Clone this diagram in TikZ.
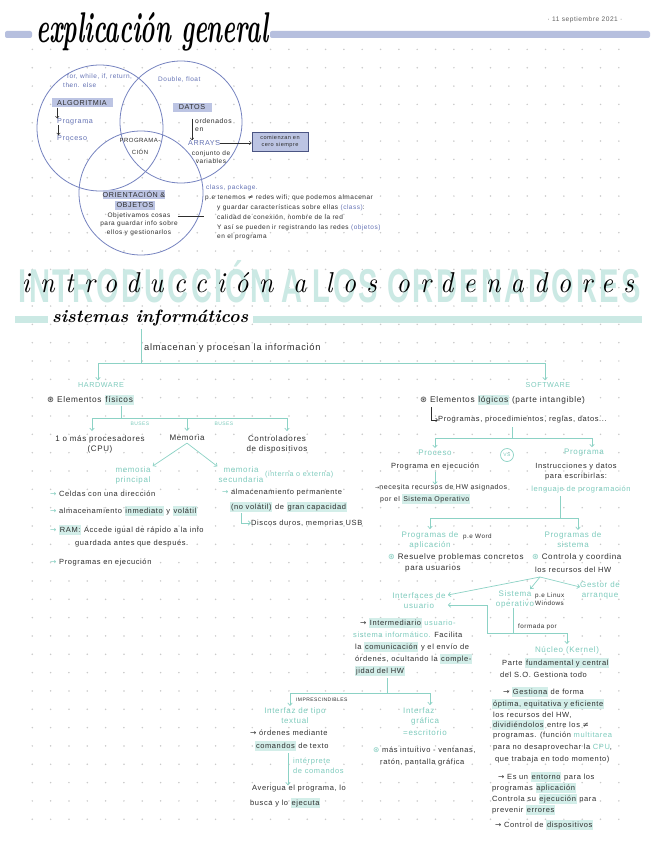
\documentclass[tikz,border=0pt]{standalone}
\usepackage{fontspec}
\usepackage{graphicx}
\usetikzlibrary{arrows.meta}
\setmainfont{Liberation Sans}[LetterSpace=8]
\newfontfamily\symf{DejaVu Sans}
\newfontfamily\lmrf{Latin Modern Roman}
\newfontfamily\lmspf{Latin Modern Roman}[LetterSpace=40]
\definecolor{ink}{HTML}{2E2E2E}
\definecolor{mint}{HTML}{7ECBBD}
\definecolor{mintline}{HTML}{8CD2C5}
\definecolor{minthl}{HTML}{D3EEE9}
\definecolor{mintband}{HTML}{CBE9E4}
\definecolor{lav}{HTML}{6573B5}
\definecolor{lavline}{HTML}{7683C0}
\definecolor{lavhl}{HTML}{BCC4E3}
\definecolor{lavbar}{HTML}{B6BFDE}
\definecolor{boxd}{HTML}{4B5583}
\definecolor{dotc}{HTML}{CACACA}
\definecolor{dategray}{HTML}{606060}
\newcommand\fsA{\fontsize{7.5}{10}\selectfont}
\newcommand\fsB{\fontsize{6.5}{8.6}\selectfont}
\newcommand\fsV{\fontsize{7.2}{8}\selectfont}
\newcommand\fsT{\fontsize{5}{6}\selectfont}
\newcommand\fsM{\fontsize{8}{10}\selectfont}
\newcommand\fsL{\fontsize{9.3}{11}\selectfont}
\newcommand\fsP{\fontsize{6.3}{8}\selectfont}
\newcommand\fsS{\fontsize{8.3}{10}\selectfont}
\newcommand\hlm[1]{{\setlength{\fboxsep}{0.8pt}\colorbox{minthl}{\vphantom{Ág}#1}}}
\newcommand\arr{{\symf →}}
\newcommand\bul{{\symf ⊛}}
\begin{document}
\begin{tikzpicture}[x=1pt,y=-1pt,
  txA/.style={anchor=west, inner sep=0pt, text=ink, font=\fsA, align=left},
  txB/.style={anchor=west, inner sep=0pt, text=ink, font=\fsB, align=left},
  mtxt/.style={inner sep=0pt, text=mint, font=\fsM, align=center},
  ltxt/.style={anchor=west, inner sep=0pt, text=lav, font=\fsB},
  lbox/.style={fill=lavhl, inner sep=0pt, text=ink, font=\fsV},
  vennc/.style={draw=lavline, line width=0.8pt, circle, inner sep=0pt},
  mln/.style={draw=mintline, line width=0.7pt},
  mar/.style={mln, -{Straight Barb[length=2.4pt,width=4.5pt]}},
  kar/.style={draw=ink, line width=0.5pt, -{Straight Barb[length=2pt,width=3.5pt]}}]

\useasboundingbox (0,0) rectangle (655,848);
\fill[white] (0,0) rectangle (655,848);
\foreach \i in {0,...,32}{\foreach \j in {0,...,42}{
  \fill[dotc] ({32.3+18.33*\i},{49.4+18.33*\j}) circle[radius=0.85];}}

% ---------- header ----------
\fill[lavbar, rounded corners=2] (5,31) rectangle (32,38);
\fill[lavbar, rounded corners=2] (270,31) rectangle (650,38);
\node[inner sep=0pt, anchor=west, text=black] (t1) at (36,32)
  {\resizebox{232pt}{30pt}{\lmrf\bfseries\itshape explicación general}};
\node[inner sep=0pt, text=dategray, font=\fontsize{6.6}{7}\selectfont] (date) at (585,20) {· 11 septiembre 2021 ·};

% ---------- venn ----------
\node[vennc, minimum size=126pt] (c1) at (100,128) {};
\node[vennc, minimum size=122pt] (c2) at (181,122) {};
\node[vennc, minimum size=124pt] (c3) at (141,193) {};

\node[ltxt] (v1) at (67,77) {for, while, if, return,};
\node[ltxt] (v2) at (63,85) {then. else};
\node[lbox, minimum width=61pt, minimum height=9pt] (algo) at (82,103) {ALGORITMIA};
\node[ltxt, font=\fsV] (vprog) at (57,122) {Programa};
\node[ltxt, font=\fsV] (vproc) at (57,138) {Proceso};
\draw[kar] ([xshift=6pt]algo.south west) -- ([xshift=6pt]algo.south west |- vprog.north);
\draw[kar] ([xshift=1.5pt]vprog.south west) -- ([xshift=1.5pt]vprog.south west |- vproc.north);

\node[ltxt] (dbl) at (158,80) {Double, float};
\node[lbox, minimum width=39pt, minimum height=9pt] (datos) at (192,107.5) {DATOS};
\node[txB, font=\fontsize{6.8}{7.5}\selectfont] (ord) at (195,125) {ordenados\\en};
\node[ltxt, font=\fsV] (arrays) at (188,143) {ARRAYS};
\draw[kar] ([xshift=-3pt]ord.north west) -- ([xshift=-3pt]ord.north west |- arrays.north);
\node[txB, anchor=center, align=center] (conj) at (211,157) {conjunto de\\variables};
\node[draw=boxd, fill=lavhl, line width=0.7pt, minimum width=56pt, minimum height=19pt,
      inner sep=0pt, align=center, font=\fontsize{5.6}{7}\selectfont, text=ink] (cero) at (280,141.5) {comienzan en\\cero siempre};
\draw[kar] (arrays.east) -- (arrays.east -| cero.west);

\node[txB, anchor=center, align=center, font=\fontsize{6}{12}\selectfont] (pgm) at (140,146) {PROGRAMA-\\CIÓN};

\node[lbox, minimum width=62pt, minimum height=9pt] (ori) at (134,194.5) {ORIENTACIÓN \&};
\node[lbox, minimum width=40pt, minimum height=9pt] (objt) at (135,205.5) {OBJETOS};
\node[txB, anchor=center, align=center] (objd) at (139,224) {Objetivamos cosas\\para guardar info sobre\\ellos y gestionarlos};
\coordinate (clsend) at (204,216);
\draw[draw=ink, line width=0.5pt] ([yshift=8pt]objd.east) -- (clsend);

\node[ltxt] (cls1) at (206,188) {class, package.};
\node[txB] (cls2) at (205,198) {p.e tenemos {\symf ≠} redes wifi, que podemos almacenar};
\node[txB] (cls3) at (217,208) {y guardar características sobre ellas \textcolor{lav}{(class)}:};
\node[txB] (cls4) at (217,218) {calidad de conexión, nombre de la red};
\node[txB] (cls5) at (217,228) {Y así se pueden ir registrando las redes \textcolor{lav}{(objetos)}};
\node[txB] (cls6) at (217,237) {en el programa};

% ---------- title 2 ----------
\node[inner sep=0pt, text=mintband] (bigt) at (330,282)
  {\resizebox{622pt}{42pt}{\bfseries INTRODUCCIÓN A LOS ORDENADORES}};
\node[inner sep=0pt, text=black] (intro) at (328,283)
  {\resizebox{612pt}{20pt}{\lmspf\itshape introducción a los ordenadores}};

\fill[mintband] (15,316) rectangle (48,323);
\fill[mintband] (253,316) rectangle (642,323);
\node[inner sep=0pt, anchor=west, text=black] (sist) at (52,318)
  {\resizebox{196pt}{!}{\lmrf\bfseries\itshape sistemas informáticos}};

% ---------- main tree ----------
\coordinate (j0) at (141,329);
\coordinate (j1) at (141,363);
\node[txA, font=\fsL] (alm) at (144,348) {almacenan y procesan la información};
\draw[mln] (j0) -- (j1);
\node[mtxt, font=\fsV] (hw) at (101,385) {HARDWARE};
\node[mtxt, font=\fsV] (sw) at (548,385) {SOFTWARE};
\draw[mar] (j1) -| ([xshift=-3pt,yshift=2pt]hw.north);
\draw[mar] (j1) -| ([xshift=-3pt,yshift=2pt]sw.north);

% hardware
\node[txA, font=\fsS] (elf) at (47,400) {\bul\ Elementos \hlm{físicos}};
\coordinate (hwa) at (121,406);
\coordinate (hwb) at (121,418);
\draw[mln] (hwa) -- (hwb);
\node[txA, anchor=center, align=center, font=\fsM] (cpu) at (100,444) {1 o más procesadores\\(CPU)};
\node[txA, anchor=center, font=\fsM] (mem) at (187,438) {Memoria};
\node[txA, anchor=center, align=center, font=\fsM] (ctrl) at (277,444) {Controladores\\de dispositivos};
\draw[mar] (hwb) -| ([xshift=-8pt,yshift=4pt]cpu.north);
\draw[mar] (hwb) -| ([yshift=4pt]mem.north);
\draw[mar] (hwb) -| ([xshift=10pt,yshift=4pt]ctrl.north);
\node[mtxt, font=\fsT] (bus1) at (140,424) {BUSES};
\node[mtxt, font=\fsT] (bus2) at (224,424) {BUSES};

\node[mtxt] (mp) at (133,475) {memoria\\principal};
\node[mtxt] (ms) at (241,474.5) {memoria\\secundaria};
\node[mtxt, anchor=west, font=\fsV] (msx) at (265,475) {(interna o externa)};
\draw[mar] ([yshift=-2pt]mem.south) -- ([xshift=2pt]mp.north east);
\draw[mar] ([yshift=-2pt]mem.south) -- ([xshift=-1pt]ms.north west);

\node[txA] (l1) at (50,494) {\textcolor{mint}{\arr} Celdas con una dirección};
\node[txA] (l2) at (50,511) {\textcolor{mint}{\arr} almacenamiento \hlm{inmediato} y \hlm{volátil}};
\node[txA] (l3) at (50,530) {\textcolor{mint}{\arr} \hlm{RAM:} Accede igual de rápido a la info};
\node[txA] (l3b) at (75,544) {guardada antes que después.};
\node[txA] (l4) at (50,563) {\textcolor{mint}{\arr} Programas en ejecución};

\node[txA] (r1) at (222,493) {\textcolor{mint}{\arr} almacenamiento permanente};
\node[txA] (r2) at (230,507) {\hlm{(no volátil)} de \hlm{gran capacidad}};
\node[txA] (r3) at (251,523) {Discos duros, memorias USB};
\coordinate (rL) at (241,513);
\draw[mar] (rL) |- (r3.west);

% software
\node[txA, font=\fsS] (s1) at (420,400) {\bul\ Elementos \hlm{lógicos} (parte intangible)};
\node[txA, font=\fsA] (s2) at (438,420) {Programas, procedimientos, reglas, datos...};
\coordinate (sL) at (431,407);
\draw[kar] (sL) |- (s2.west);
\coordinate (sj1) at (512,427);
\coordinate (sj2) at (512,438);
\draw[mln] (sj1) -- (sj2);
\node[mtxt] (proc) at (435,453) {Proceso};
\node[mtxt] (prog) at (584,453) {Programa};
\draw[mar] (sj2) -| ([yshift=2pt]proc.north);
\draw[mar] (sj2) -| ([xshift=8pt,yshift=2pt]prog.north);
\node[draw=mintline, circle, line width=0.7pt, inner sep=0.5pt, minimum size=13pt, text=mint, font=\fsT] (vs) at (507,455) {VS};

\node[txA, anchor=center] (pe) at (435,467) {Programa en ejecución};
\node[txA, font=\fontsize{7}{9}\selectfont] (nec) at (375,488) {{\symf\fontsize{5}{6}\selectfont →}necesita recursos de HW asignados};
\node[txA, font=\fontsize{7}{9}\selectfont] (nec2) at (380,499) {por el \hlm{Sistema Operativo}};
\draw[mar] ([yshift=-1pt]pe.south) -- (pe.south |- nec.north);

\node[txA, anchor=center, align=center] (ins) at (576,472) {Instrucciones y datos\\para escribirlas:};
\node[mtxt, font=\fsA] (leng) at (581,490) {lenguaje de programación};
\coordinate (pj0) at (560,496);
\coordinate (pj) at (560,518);
\draw[mln] (pj0) -- (pj);
\node[mtxt] (papp) at (430,540) {Programas de\\aplicación};
\node[mtxt] (psis) at (573,540) {Programas de\\sistema};
\draw[mar] (pj) -| ([yshift=2pt]papp.north);
\draw[mar] (pj) -| ([xshift=5pt,yshift=2pt]psis.north);
\node[txA, font=\fsP] (pew) at (463,537) {p.e Word};

\node[txA, font=\fsM] (res1) at (388,557) {\textcolor{mint}{\bul} Resuelve problemas concretos};
\node[txA, font=\fsM] (res2) at (405,568) {para usuarios};
\node[txA, font=\fsM] (ctl1) at (532,557) {\textcolor{mint}{\bul} Controla y coordina};
\node[txA, font=\fsA] (ctl2) at (535,570) {los recursos del HW};

\coordinate (bj) at (540,577);
\node[mtxt] (iu) at (419,601) {Interfaces de\\usuario};
\node[mtxt] (so) at (515,599) {Sistema\\operativo};
\node[txA, font=\fsP] (pel) at (535,599) {p.e Linux\\Windows};
\node[mtxt] (ga) at (600,590) {Gestor de\\arranque};
\draw[mar] (bj) -- ([xshift=2pt,yshift=6pt]iu.east);
\draw[mar] (bj) -- ([xshift=-4pt,yshift=1pt]so.north east);
\draw[mar] (bj) -- ([yshift=3pt]ga.west);

\coordinate (k1) at (487,633);
\node[mtxt] (kern) at (567,650) {Núcleo (Kernel)};
\draw[mln] ([xshift=-2pt]so.south) -- ([xshift=-2pt]so.south |- k1);
\draw[mar] (k1) |- ([xshift=2pt,yshift=-4pt]iu.east);
\draw[mar] (k1) -| ([yshift=2pt]kern.north);
\node[txA, font=\fsP] (fp) at (518,627) {formada por};
\node[txA] (kern2) at (502,663) {Parte \hlm{fundamental y central}};
\node[txA] (kern3) at (500,675) {del S.O. Gestiona todo};

\node[txA] (i1) at (360,623) {\arr\ \hlm{Intermediario} \textcolor{mint}{usuario-}};
\node[txA] (i2) at (353,635) {\textcolor{mint}{sistema informático.} Facilita};
\node[txA] (i3) at (355,647) {la \hlm{comunicación} y el envío de};
\node[txA] (i4) at (355,659) {órdenes, ocultando la \hlm{comple-}};
\node[txA] (i5) at (355,671) {\hlm{jidad del HW}};

\coordinate (it0) at (387,678);
\coordinate (it1) at (387,693);
\draw[mln] (it0) -- (it1);
\node[mtxt] (itx) at (295,716) {Interfaz de tipo\\textual};
\node[mtxt, anchor=west, align=left] (igr) at (403,716) {Interfaz\\\hspace*{8pt}gráfica};
\draw[mar] (it1) -| ([xshift=-5pt,yshift=2pt]itx.north);
\draw[mar] (it1) -| ([xshift=27pt,yshift=2pt]igr.north west);
\node[txA, font=\fsT] (impr) at (296,700) {IMPRESCINDIBLES};

\node[txA] (ic1) at (250,733) {\arr\ órdenes mediante};
\node[txA] (ic2) at (255,746) {\hlm{comandos} de texto};
\node[mtxt, anchor=west, align=left, font=\fsA] (intp) at (293,766) {intérprete\\de comandos};
\node[txA] (av1) at (252,789) {Averigua el programa, lo};
\node[txA] (av2) at (250,803) {busca y lo \hlm{ejecuta}};
\coordinate (iv0) at (288,753);
\draw[mar] (iv0) -- (iv0 |- av1.north);

\node[mtxt, anchor=west] (esc) at (403,733) {=escritorio};
\node[txA] (gr1) at (373,750) {\textcolor{mint}{\bul} más intuitivo - ventanas,};
\node[txA] (gr2) at (380,763) {ratón, pantalla gráfica};

\node[txA] (g1) at (503,692) {\arr\ \hlm{Gestiona} de forma};
\node[txA] (g2) at (492,704) {\hlm{óptima, equitativa y eficiente}};
\node[txA] (g3) at (493,715) {los recursos del HW,};
\node[txA] (g4) at (492,725) {\hlm{dividiéndolos} entre los {\symf ≠}};
\node[txA] (g5) at (493,736) {programas. (función \textcolor{mint}{multitarea}};
\node[txA] (g6) at (493,748) {para no desaprovechar la \textcolor{mint}{CPU},};
\node[txA] (g7) at (495,760) {que trabaja en todo momento)};
\node[txA] (e1) at (498,777) {\arr\ Es un \hlm{entorno} para los};
\node[txA] (e2) at (492,788) {programas \hlm{aplicación}};
\node[txA] (e3) at (492,799) {Controla su \hlm{ejecución} para};
\node[txA] (e4) at (492,810) {prevenir \hlm{errores}};
\node[txA] (e5) at (495,825) {\arr\ Control de \hlm{dispositivos}};
\end{tikzpicture}
\end{document}
